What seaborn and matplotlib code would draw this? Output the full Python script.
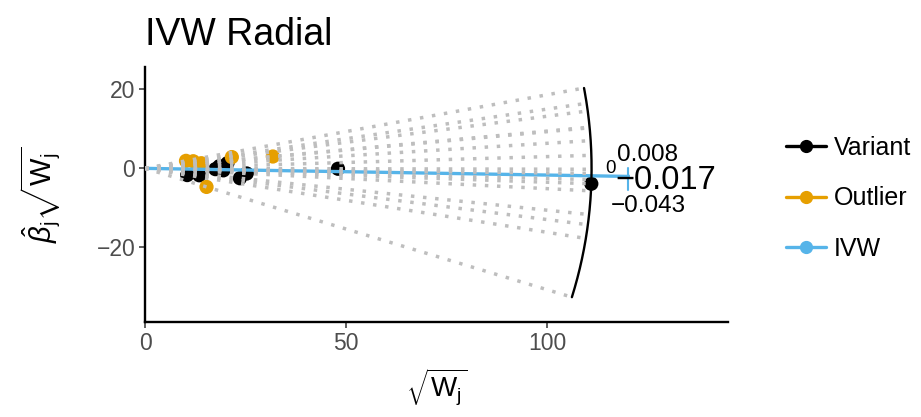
import numpy as np
import pandas as pd
import matplotlib
matplotlib.use("Agg")
import matplotlib.pyplot as plt
import seaborn as sns
from matplotlib.lines import Line2D

# ---- data ----
variant_x = [10.5, 13.5, 17.5, 18.5, 20.5, 19.5, 23.6, 25.3, 48.0, 111.0]
variant_y = [-1.7, -1.75, -0.2, 0.55, 1.3, -0.5, -2.5, -1.3, -0.1, -3.9]
outlier_x = [10.2, 12.0, 14.0, 21.6, 31.8, 15.3]
outlier_y = [1.9, 1.8, 1.3, 2.85, 3.0, -4.7]
ivw_estimate = -0.017
ivw_end_x = 120.6
ci_upper_label = "0.008"
ci_lower_label = "\u22120.043"
ivw_label = "\u22120.017"
zero_label = "0"
x_ticks = [0, 50, 100]
y_ticks = [-20, 0, 20]
legend_labels = ["Variant", "Outlier", "IVW"]
legend_colors = ["black", "#E69F00", "#56B4E9"]

sns.set_theme(style="ticks")
plt.rcParams['font.family'] = ['Liberation Sans', 'DejaVu Sans']
plt.rcParams['text.color'] = 'black'
plt.rcParams['axes.labelcolor'] = 'black'
plt.rcParams['mathtext.fontset'] = 'custom'
plt.rcParams['mathtext.rm'] = 'Liberation Sans'
plt.rcParams['mathtext.it'] = 'Liberation Sans:italic'
plt.rcParams['mathtext.bf'] = 'Liberation Sans:bold'

fig = plt.figure(figsize=(9.21, 4.17), dpi=100)
ax = fig.add_axes([145/921, 95/417, 583/921, 255/417])

df = pd.DataFrame({
    "x": variant_x + outlier_x,
    "y": variant_y + outlier_y,
    "group": ["Variant"] * len(variant_x) + ["Outlier"] * len(outlier_x),
})

sns.scatterplot(data=df, x="x", y="y", hue="group",
                palette={"Variant": "black", "Outlier": "#E69F00"},
                s=105, edgecolor="none", legend=False, ax=ax, zorder=2)

ratio = (df["y"] / df["x"]).to_numpy()
R = np.hypot(df["x"], df["y"]).max()
theta = np.arctan(ratio)

# IVW line
xs = np.array([0, ivw_end_x])
ax.plot(xs, ivw_estimate * xs, color="#56B4E9", lw=2.4, zorder=3, solid_capstyle="butt")
ax.plot([ivw_end_x - 0.4, ivw_end_x - 0.4], [0.2, -5.4], color="#56B4E9", lw=1.5, zorder=3)

# radial dotted lines
for t in theta:
    ax.plot([0, R * np.cos(t)], [0, R * np.sin(t)], color="#BEBEBE", lw=2.5,
            linestyle=(0, (1, 2.5)), dash_capstyle="butt", zorder=4)

# scale arc
arc_t = np.linspace(theta.min(), theta.max(), 300)
ax.plot(R * np.cos(arc_t), R * np.sin(arc_t), color="black", lw=1.7, zorder=3)

# labels at the scale
ax.text(115.8, -0.1, zero_label, fontsize=13.5, ha="center", va="center", zorder=5)
ax.text(125.1, 3.5, ci_upper_label, fontsize=17.5, ha="center", va="center", zorder=5)
ax.text(125.1, -9.5, ci_lower_label, fontsize=17.5, ha="center", va="center", zorder=5)
ax.text(129.6, -3.1, ivw_label, fontsize=23.5, ha="center", va="center", zorder=5)

ax.set_xlim(0, 145)
ax.set_ylim(-38.9, 25.66)
ax.set_xticks(x_ticks)
ax.set_yticks(y_ticks)
ax.set_xticklabels([f"{v}" for v in x_ticks])
ax.set_yticklabels([f"{v}".replace("-", "\u2212") for v in y_ticks])
ax.tick_params(axis="both", length=4, width=1.1, color="#333333",
               labelcolor="#4D4D4D", labelsize=16.5, pad=3)
for s in ["top", "right"]:
    ax.spines[s].set_visible(False)
for s in ["left", "bottom"]:
    ax.spines[s].set_color("black")
    ax.spines[s].set_linewidth(1.7)

ax.set_xlabel(r"$\sqrt{\mathrm{W}_\mathrm{j}}$", fontsize=20, labelpad=8)
ax.set_ylabel(r"$\hat{\beta}_\mathrm{j}\sqrt{\mathrm{W}_\mathrm{j}}$", fontsize=21, labelpad=24)
ax.set_title("IVW Radial", loc="left", fontsize=27, pad=16)

handles = [Line2D([0], [0], color=c, lw=2.4, marker="o", markersize=8.5,
                  markeredgecolor=c, markerfacecolor=c) for c in legend_colors]
fig.legend(handles, legend_labels, loc="upper left", bbox_to_anchor=(776/921, 1 - 126/417),
           frameon=False, fontsize=18, handlelength=1.6, handletextpad=0.3,
           labelspacing=1.05, borderaxespad=0)

fig.savefig("out.png", dpi=100)
